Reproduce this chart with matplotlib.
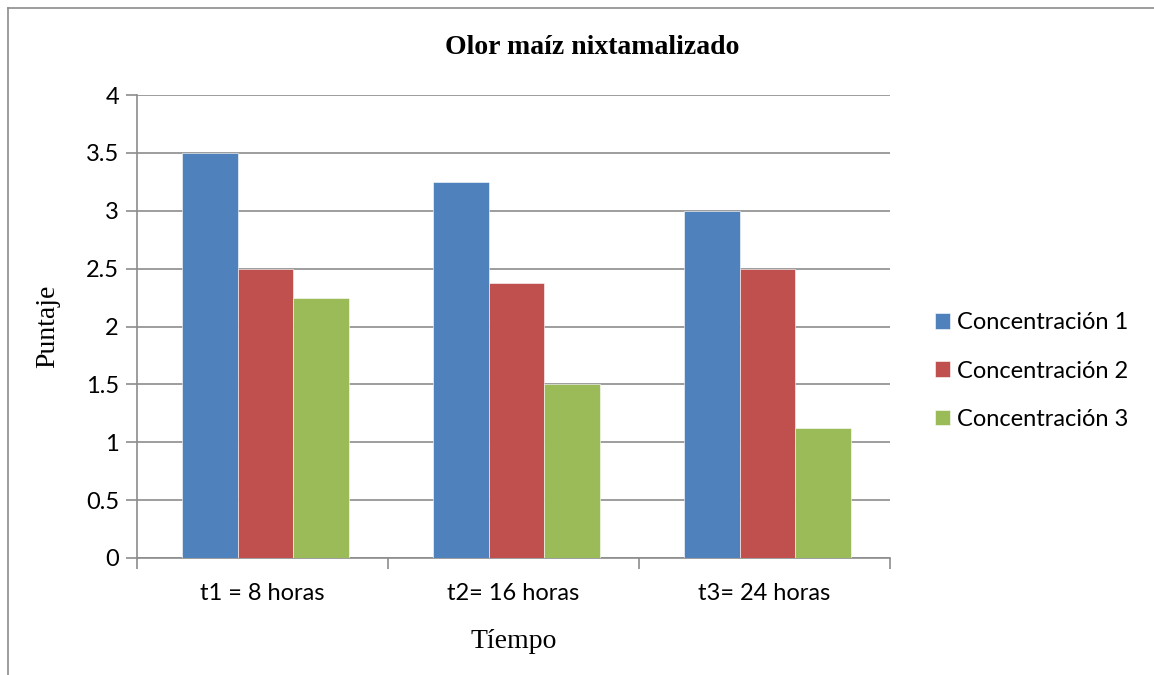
import matplotlib.pyplot as plt
import numpy as np
from matplotlib.lines import Line2D

categorias = ['t1 = 8 horas', 't2= 16 horas', 't3= 24 horas']
series = ['Concentración 1', 'Concentración 2', 'Concentración 3']
conc1 = [3.5, 3.25, 3.0]
conc2 = [2.5, 2.375, 2.5]
conc3 = [2.25, 1.5, 1.125]
colores = ['#4f81bd', '#c0504d', '#9bbb59']

fig = plt.figure(figsize=(11.54, 6.75), dpi=100)
ax = fig.add_axes([137 / 1154, 1 - 558 / 675, (890 - 137) / 1154, (558 - 95) / 675])

x = np.arange(len(categorias))
w = 1 / 4.5
for i, (vals, nombre) in enumerate(zip([conc1, conc2, conc3], series)):
    ax.bar(x + (i - 1) * w + 0.012, vals, width=w, color=colores[i], label=nombre,
           edgecolor='white', linewidth=0.4, zorder=3)

ax.set_xlim(-0.5, 2.5)
ax.set_ylim(0, 4)
ax.set_yticks(np.arange(0, 4.01, 0.5))
ax.set_yticklabels(['0', '0.5', '1', '1.5', '2', '2.5', '3', '3.5', '4'])
ax.grid(axis='y', color='#8c8c8c', linewidth=1.2, zorder=0)

# ticks de categoria en los limites
ax.set_xticks([-0.5, 0.5, 1.5, 2.5])
ax.set_xticklabels([])
ax.set_xticks(x, minor=True)
ax.set_xticklabels(categorias, minor=True)
ax.tick_params(axis='x', which='major', length=8, color='#8c8c8c', width=1.2)
ax.tick_params(axis='x', which='minor', length=0, pad=18)
ax.tick_params(axis='y', length=8, color='#8c8c8c', width=1.2, pad=5)
for lab in ax.get_xticklabels(minor=True) + ax.get_yticklabels():
    lab.set_fontfamily('Lato')
    lab.set_fontsize(17)

for s in ['top', 'right']:
    ax.spines[s].set_visible(False)
for s in ['left', 'bottom']:
    ax.spines[s].set_color('#8c8c8c')
    ax.spines[s].set_linewidth(1.2)

ax.set_ylabel('Puntaje', fontfamily='Liberation Serif', fontsize=20, labelpad=18)
ax.set_xlabel('Tíempo', fontfamily='Liberation Serif', fontsize=20, labelpad=18)
fig.text(592 / 1154, 1 - 47 / 675, 'Olor maíz nixtamalizado', ha='center', va='center',
         fontfamily='Liberation Serif', fontweight='bold', fontsize=20)

leg = ax.legend(loc='center left', bbox_to_anchor=(923 / 1154, 1 - 371 / 675),
                bbox_transform=fig.transFigure, frameon=False, borderpad=0,
                prop={'family': 'Lato', 'size': 17}, handlelength=0.65, handleheight=0.65,
                handletextpad=0.3, labelspacing=1.16)

# marco exterior (solo visible arriba e izquierda)
fig.add_artist(Line2D([8 / 1154, 8 / 1154], [0, 1 - 8 / 675], color='#8c8c8c', lw=1.2))
fig.add_artist(Line2D([8 / 1154, 1], [1 - 8 / 675, 1 - 8 / 675], color='#8c8c8c', lw=1.2))

fig.savefig('out.png', dpi=100)
